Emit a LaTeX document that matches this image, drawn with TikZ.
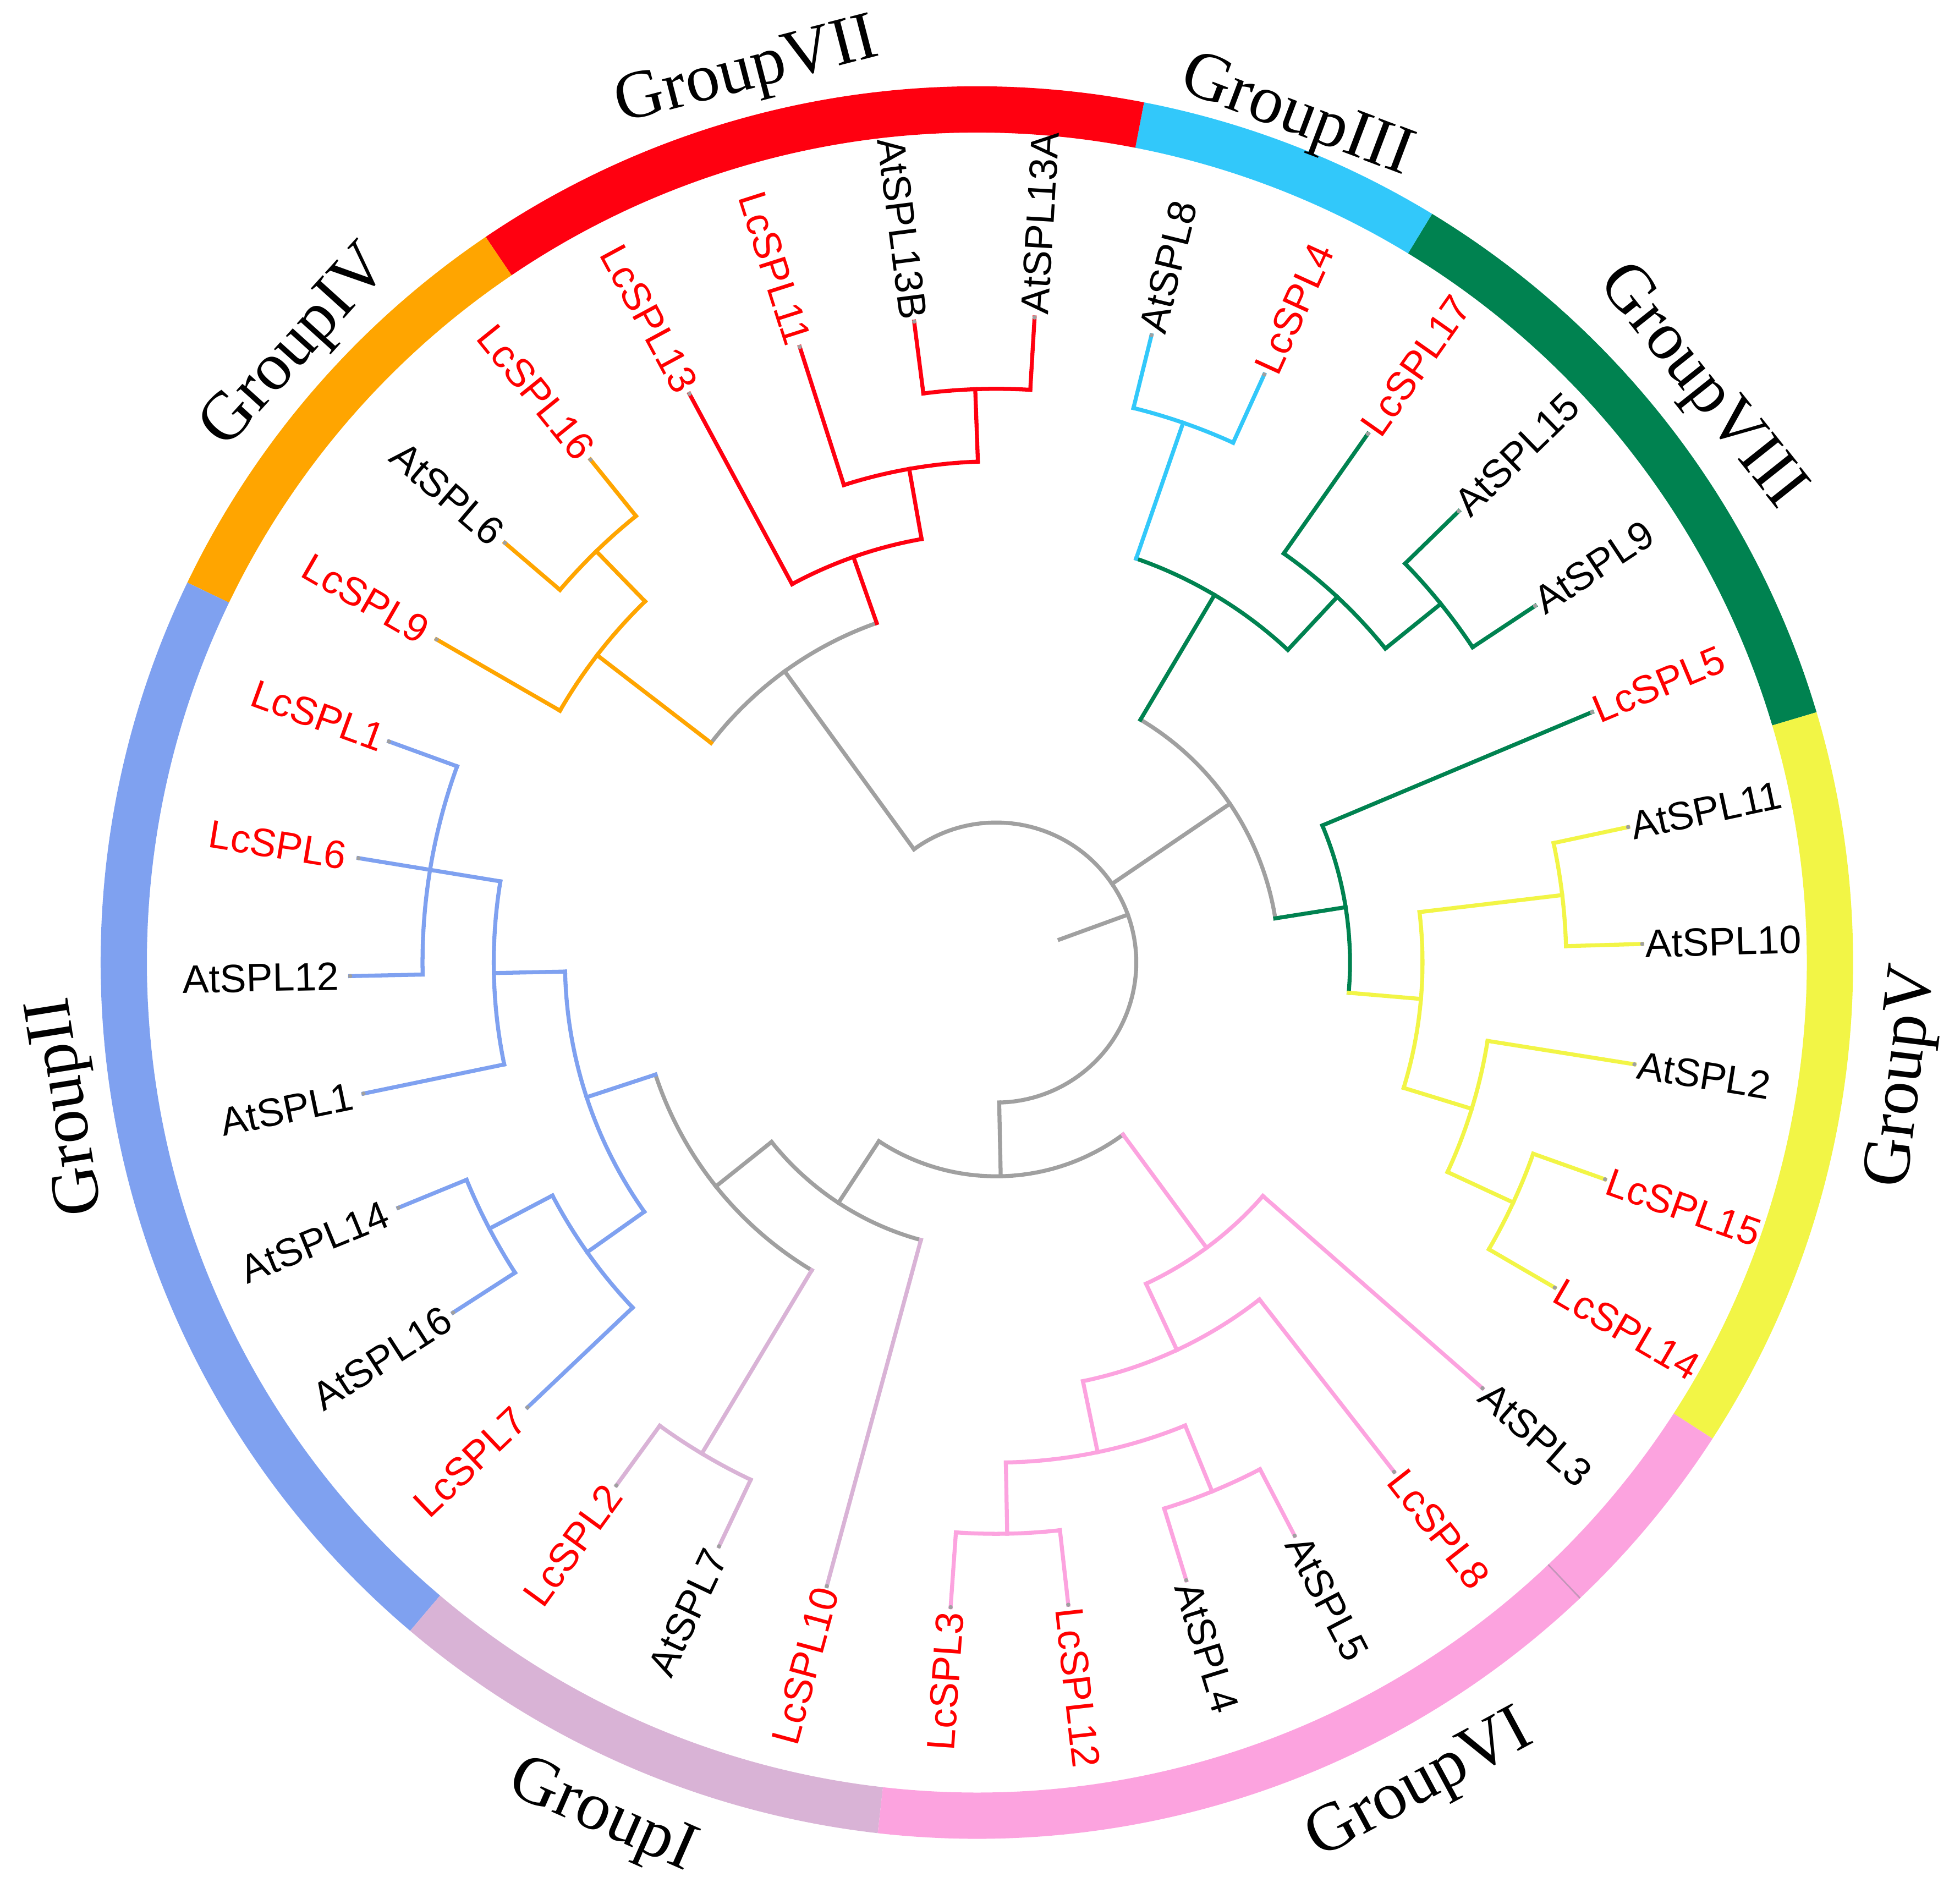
\documentclass[tikz,border=0pt]{standalone}
\usepackage{fontspec}
\usetikzlibrary{calc}
\newfontfamily\leaffont{Liberation Sans}
\newfontfamily\grpfont{Liberation Serif}
\newcommand{\grpstyle}{\grpfont\fontsize{15.5}{18}\selectfont}
\definecolor{cRed}{RGB}{255,0,16}
\definecolor{cLab}{RGB}{255,0,0}
\definecolor{cOrange}{RGB}{255,165,0}
\definecolor{cBlue}{RGB}{127,161,240}
\definecolor{cMauve}{RGB}{217,179,214}
\definecolor{cPink}{RGB}{252,163,223}
\definecolor{cYellow}{RGB}{242,245,70}
\definecolor{cGreen}{RGB}{0,130,80}
\definecolor{cLight}{RGB}{50,200,250}
\definecolor{cGray}{RGB}{160,160,160}
\definecolor{cSeam}{RGB}{195,150,185}
\tikzset{
  branch/.style={line width=0.32mm, line cap=rect},
  leaflab/.style={font=\leaffont\fontsize{9}{10}\selectfont, inner sep=0.3pt, outer sep=0pt},
  grouplab/.style={font=\grpstyle, inner sep=0pt, anchor=base},
  ringband/.style={line width=3.7mm},
  tipdot/.style={fill=cGray},
}
\newcommand{\tstem}[5]{%
  \coordinate (#1a) at ($(T)+(#3:#4)$);
  \coordinate (#1b) at ($(T)+(#3:#5)$);
  \draw[branch,#2] (#1a) -- (#1b);}
\newcommand{\tarc}[5]{%
  \coordinate (#1) at ($(T)+(#4:#3)$);
  \draw[branch,#2] (#1) arc[start angle=#4, end angle=#5, radius=#3];}
\newcommand{\tleafR}[6]{%
  \coordinate (#1base) at ($(T)+(#4:#5)$);
  \coordinate (#1tip) at ($(T)+(#4:517)$);
  \draw[branch,#2] (#1base) -- (#1tip);
  \fill[tipdot] (#1tip) circle[radius=1.7];
  \node[leaflab, text=#3, anchor=west, rotate=#4] (#1) at ($(T)+(#4:518.5)$) {#6};}
\newcommand{\tleafL}[7]{%
  \coordinate (#1base) at ($(T)+(#4:#5)$);
  \coordinate (#1tip) at ($(T)+(#4:517)$);
  \draw[branch,#2] (#1base) -- (#1tip);
  \fill[tipdot] (#1tip) circle[radius=1.7];
  \node[leaflab, text=#3, anchor=east, rotate=#4-180] (#1) at ($(T)+(#4:#7)$) {#6};}
\newcommand{\ringseg}[3]{%
  \draw[ringband,#1] ($(R)+(#2:682.5)$) arc[start angle=#2, end angle=#3, radius=682.5];}
% outward label: name, text, radius, centre angle, rotation
\newcommand{\grplab}[5]{%
  \node[grouplab, rotate=#5] (#1) at ($(R)+(#4:#3)$) {#2};}
\begin{document}
\begin{tikzpicture}[x=0.1mm, y=0.1mm]
\useasboundingbox (0,0) rectangle (1568,-1519);
\coordinate (T) at (797,-770);
\coordinate (R) at (781.5,-770);
% ---- ring ----
\ringseg{cGreen}{16.6}{58.7}
\ringseg{cLight}{58.7}{79.0}
\ringseg{cRed}{79.0}{124.1}
\ringseg{cOrange}{124.1}{154.3}
\ringseg{cBlue}{154.3}{229.7}
\ringseg{cMauve}{229.7}{263.5}
\ringseg{cPink}{263.5}{327.1}
\ringseg{cYellow}{327.1}{376.6}
\draw[line width=0.12mm, cSeam] ($(R)+(-46.5:664)$) -- ($(R)+(-46.5:701)$);
% ---- group labels ----
\grplab{gVII}{GroupVII}{722}{104.5}{14.5}
\grplab{gIII}{GroupIII}{710}{69.3}{-20.7}
\grplab{gVIII}{GroupVIII}{727}{38.5}{-51.5}
\grplab{gIV}{GroupIV}{721}{137.9}{47.9}
\grplab{gII}{GroupII}{723}{189}{99}
\grplab{gV}{GroupV}{760}{-7}{83}
\grplab{gVI}{GroupVI}{761}{-61.7}{28.3}
\grplab{gI}{GroupI}{759}{-113.7}{-23.7}
% ---- gray backbone ----
\tstem{g1}{cGray}{20}{54}{112}
\tarc{ga0}{cGray}{112}{126.0}{-88.8}
\tstem{g2}{cGray}{126.0}{112}{288}
\tarc{ga1}{cGray}{288}{142.4}{109.4}
\tstem{g3}{cGray}{34.2}{112}{226}
\tarc{ga2}{cGray}{226}{59.3}{9.0}
\tstem{g4}{cGray}{-88.8}{112}{171}
\tarc{ga3}{cGray}{171}{-53.6}{-123.3}
\tstem{g5}{cGray}{-123.3}{171}{230}
\tarc{ga4}{cGray}{230}{-105.2}{-141.4}
\tstem{g6}{cGray}{-141.4}{230}{287}
\tarc{ga5}{cGray}{287}{-120.95}{-161.8}
% ---- Group IV (orange) ----
\tstem{o1}{cOrange}{142.4}{288}{403}
\tarc{oa1}{cOrange}{403}{150.0}{134.2}
\tstem{o2}{cOrange}{134.2}{403}{459}
\tarc{oa2}{cOrange}{459}{139.5}{128.9}
\tleafL{LcSPL9}{cOrange}{cLab}{150.0}{403}{LcSPL9}{526}
\tleafL{AtSPL6}{cOrange}{black}{139.5}{459}{AtSPL6}{523}
\tleafL{LcSPL16}{cOrange}{cLab}{128.9}{459}{LcSPL16}{521}
% ---- Group VII (red) ----
\tstem{r1}{cRed}{109.4}{288}{344}
\tarc{ra1}{cRed}{344}{118.35}{100.0}
\tstem{r2}{cRed}{100.0}{344}{401}
\tarc{ra2}{cRed}{401}{107.7}{92.1}
\tstem{r3}{cRed}{92.1}{401}{459}
\tarc{ra3}{cRed}{459}{97.3}{86.6}
\tleafL{LcSPL13}{cRed}{cLab}{118.35}{344}{LcSPL13}{520}
\tleafL{LcSPL11}{cRed}{cLab}{107.7}{401}{LcSPL11}{519}
\tleafL{AtSPL13B}{cRed}{black}{97.3}{459}{AtSPL13B}{518}
\tleafR{AtSPL13A}{cRed}{black}{86.6}{459}{AtSPL13A}
% ---- Group VIII (green) and III (light blue) ----
\tstem{v1}{cGreen}{59.3}{226}{342}
\tarc{va1}{cGreen}{342}{70.9}{47.0}
\tstem{l1}{cLight}{70.9}{342}{457}
\tarc{la1}{cLight}{457}{76.1}{65.5}
\tleafR{AtSPL8}{cLight}{black}{76.1}{457}{AtSPL8}
\tleafR{LcSPL4}{cLight}{cLab}{65.5}{457}{LcSPL4}
\tstem{v2}{cGreen}{47.0}{342}{400}
\tarc{va2}{cGreen}{400}{54.9}{38.9}
\tleafR{LcSPL17}{cGreen}{cLab}{54.9}{400}{LcSPL17}
\tstem{v3}{cGreen}{38.9}{400}{457}
\tarc{va3}{cGreen}{457}{44.3}{33.5}
\tleafR{AtSPL15}{cGreen}{black}{44.3}{457}{AtSPL15}
\tleafR{AtSPL9}{cGreen}{black}{33.5}{457}{AtSPL9}
\tstem{v4}{cGreen}{9.0}{226}{283}
\tarc{va4}{cGreen}{283}{22.8}{-4.9}
\tleafR{LcSPL5}{cGreen}{cLab}{22.8}{283}{LcSPL5}
% ---- Group V (yellow) ----
\tstem{y1}{cYellow}{-4.9}{283}{341}
\tarc{ya1}{cYellow}{341}{6.8}{-17.1}
\tstem{y2}{cYellow}{6.8}{341}{456}
\tarc{ya2}{cYellow}{456}{12.1}{1.65}
\tleafR{AtSPL11}{cYellow}{black}{12.1}{456}{AtSPL11}
\tleafR{AtSPL10}{cYellow}{black}{1.65}{456}{AtSPL10}
\tstem{y3}{cYellow}{-17.1}{341}{398}
\tarc{ya3}{cYellow}{398}{-9.06}{-24.9}
\tleafR{AtSPL2}{cYellow}{black}{-9.06}{398}{AtSPL2}
\tstem{y4}{cYellow}{-24.9}{398}{456}
\tarc{ya4}{cYellow}{456}{-19.6}{-30.2}
\tleafR{LcSPL15}{cYellow}{cLab}{-19.6}{456}{LcSPL15}
\tleafR{LcSPL14}{cYellow}{cLab}{-30.2}{456}{LcSPL14}
% ---- Group VI (pink) ----
\tstem{p1}{cPink}{-53.6}{171}{283.5}
\tarc{pa1}{cPink}{283.5}{-41.2}{-65.0}
\tleafR{AtSPL3}{cPink}{black}{-41.2}{283.5}{AtSPL3}
\tstem{p2}{cPink}{-65.0}{283.5}{342}
\tarc{pa2}{cPink}{342}{-52.0}{-78.3}
\tleafR{LcSPL8}{cPink}{cLab}{-52.0}{342}{LcSPL8}
\tstem{p3}{cPink}{-78.3}{342}{400}
\tarc{pa3}{cPink}{400}{-67.8}{-88.9}
\tstem{p4}{cPink}{-67.8}{400}{457}
\tarc{pa4}{cPink}{457}{-62.5}{-72.9}
\tleafR{AtSPL5}{cPink}{black}{-62.5}{457}{AtSPL5}
\tleafR{AtSPL4}{cPink}{black}{-72.9}{457}{AtSPL4}
\tstem{p5}{cPink}{-88.9}{400}{457}
\tarc{pa5}{cPink}{457}{-83.6}{-94.05}
\tleafR{LcSPL12}{cPink}{cLab}{-83.6}{457}{LcSPL12}
\tleafL{LcSPL3}{cPink}{cLab}{-94.05}{457}{LcSPL3}{520}
% ---- Group I (mauve) ----
\tleafL{LcSPL10}{cMauve}{cLab}{-105.2}{230}{LcSPL10}{518}
\tstem{m1}{cMauve}{-120.95}{287}{458}
\tarc{ma1}{cMauve}{458}{-115.4}{-126.0}
\tleafL{AtSPL7}{cMauve}{black}{-115.4}{458}{AtSPL7}{521}
\tleafL{LcSPL2}{cMauve}{cLab}{-126.0}{458}{LcSPL2}{520}
% ---- Group II (blue) ----
\tstem{b1}{cBlue}{198.2}{287}{345}
\tarc{ba1}{cBlue}{345}{181.2}{215.3}
\tstem{b2}{cBlue}{181.2}{345}{402}
\tarc{ba2}{cBlue}{402}{170.7}{191.7}
\tleafL{LcSPL6}{cBlue}{cLab}{170.7}{402}{LcSPL6}{526}
\tleafL{AtSPL1}{cBlue}{black}{191.7}{402}{AtSPL1}{525}
\tarc{ba3}{cBlue}{459}{160.0}{181.2}
\tleafL{LcSPL1}{cBlue}{cLab}{160.0}{459}{LcSPL1}{521}
\tleafL{AtSPL12}{cBlue}{black}{181.2}{459}{AtSPL12}{525}
\tstem{b3}{cBlue}{215.3}{345}{401}
\tarc{ba4}{cBlue}{401}{207.7}{223.5}
\tleafL{LcSPL7}{cBlue}{cLab}{223.5}{401}{LcSPL7}{524}
\tstem{b4}{cBlue}{207.7}{401}{458}
\tarc{ba5}{cBlue}{458}{202.3}{212.8}
\tleafL{AtSPL14}{cBlue}{black}{202.3}{458}{AtSPL14}{526}
\tleafL{AtSPL16}{cBlue}{black}{212.8}{458}{AtSPL16}{521}
\end{tikzpicture}
\end{document}
